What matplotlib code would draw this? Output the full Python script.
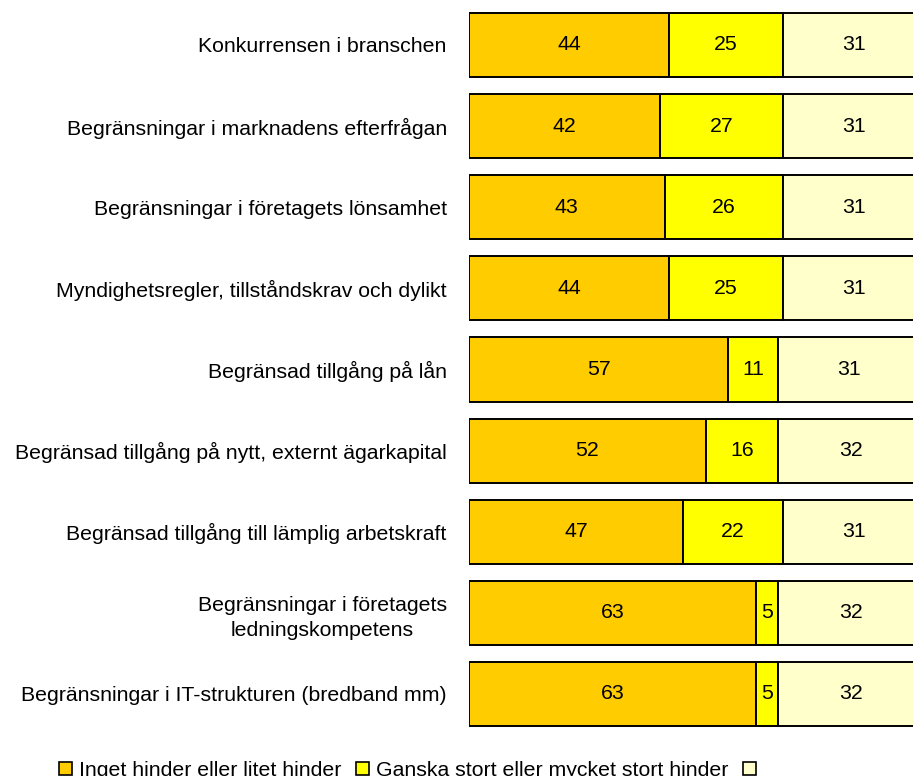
import matplotlib.pyplot as plt
from matplotlib.patches import Patch

plt.rcParams['font.family'] = ['Liberation Sans', 'DejaVu Sans']

categories = [
    'Konkurrensen i branschen',
    'Begränsningar i marknadens efterfrågan',
    'Begränsningar i företagets lönsamhet',
    'Myndighetsregler, tillståndskrav och dylikt',
    'Begränsad tillgång på lån',
    'Begränsad tillgång på nytt, externt ägarkapital',
    'Begränsad tillgång till lämplig arbetskraft',
    'Begränsningar i företagets\nledningskompetens',
    'Begränsningar i IT-strukturen (bredband mm)',
]
small = [44, 42, 43, 44, 57, 52, 47, 63, 63]
large = [25, 27, 26, 25, 11, 16, 22, 5, 5]
other = [31, 31, 31, 31, 31, 32, 31, 32, 32]
series_names = ['Inget hinder eller litet hinder', 'Ganska stort eller mycket stort hinder', '']
colors = ['#FFCC00', '#FFFF00', '#FFFFCC']
fs = 15.3

fig = plt.figure(figsize=(9.13, 7.76), dpi=100)
ax = fig.add_axes([469 / 913, 0.0534, 455 / 913, 0.941])

y = list(range(len(categories)))
left = [0] * len(categories)
for vals, col in zip([small, large, other], colors):
    bars = ax.barh(y, vals, left=left, height=0.79, color=col,
                   edgecolor='black', linewidth=1.4)
    for b, v in zip(bars, vals):
        ax.text(b.get_x() + b.get_width() / 2, b.get_y() + b.get_height() / 2,
                str(v), ha='center', va='center', fontsize=fs)
    left = [l + v for l, v in zip(left, vals)]

ax.set_ylim(len(categories) - 0.5, -0.5)
ax.set_xlim(0, 100)
ax.set_yticks(y)
ax.set_yticklabels(categories, fontsize=fs, multialignment='center', linespacing=1.4)
ax.tick_params(axis='y', length=0, pad=16)
ax.set_xticks([])
for s in ax.spines.values():
    s.set_visible(False)

handles = [Patch(facecolor=c, edgecolor='black', linewidth=1.2) for c in colors]
fig.legend(handles, series_names, loc='upper left', bbox_to_anchor=(0.0646, 0.0194),
           ncol=3, frameon=False, fontsize=fs, handlelength=0.61, handleheight=0.61,
           handletextpad=0.33, columnspacing=0.7, borderaxespad=0, borderpad=0)

fig.savefig('out.png', dpi=100)
